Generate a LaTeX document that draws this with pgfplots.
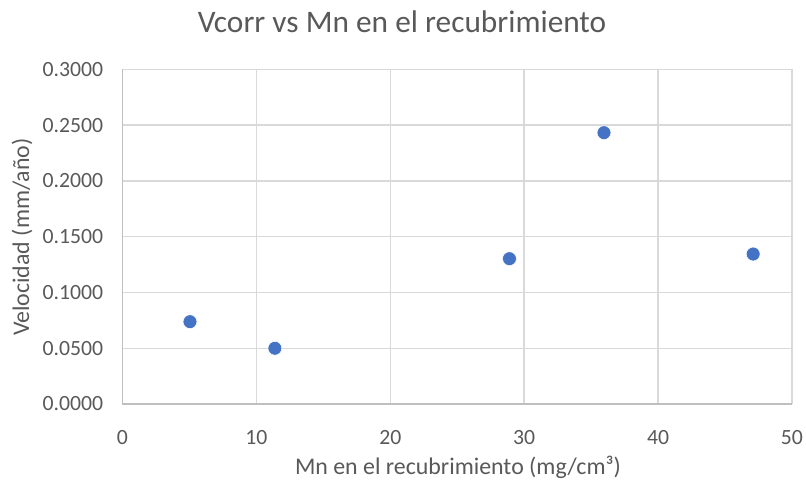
\documentclass[border=0pt]{standalone}
\usepackage{pgfplots}
\pgfplotsset{compat=1.18}
\usepackage{fontspec}
\setmainfont{Carlito}
\definecolor{txtgray}{HTML}{595959}
\definecolor{gridgray}{HTML}{D9D9D9}
\definecolor{axisgray}{HTML}{BFBFBF}
\definecolor{dotblue}{HTML}{4472C4}
\begin{document}
\begin{tikzpicture}
\path[use as bounding box] (0,0) rectangle (604.5pt,360.75pt);
\begin{axis}[
    at={(91.875pt,57.75pt)}, anchor=south west,
    scale only axis, width=502.1pt, height=250.9pt,
    xmin=0, xmax=50, ymin=0, ymax=0.3,
    xtick={0,10,...,50}, ytick={0,0.05,...,0.3},
    grid=major,
    major grid style={gridgray, line width=1.1pt},
    axis line style={draw=none},
    major tick length=0pt,
    /pgf/number format/assume math mode=true,
    tick label style={font=\fontsize{16.3}{19}\selectfont, text=txtgray},
    yticklabel style={xshift=-11pt, /pgf/number format/.cd, fixed, fixed zerofill, precision=4},
    xticklabel style={yshift=-16pt, /pgf/number format/.cd, fixed, precision=0},
    scaled y ticks=false,
    title={Vcorr vs Mn en el recubrimiento},
    title style={at={(rel axis cs:0.4175,1.12)}, anchor=center,
        font=\fontsize{23.5}{27}\selectfont, text=txtgray},
    xlabel={Mn en el recubrimiento (mg/cm³)},
    xlabel style={at={(rel axis cs:0.501,-0.19)}, anchor=center,
        font=\fontsize{17.9}{21}\selectfont, text=txtgray},
    ylabel={Velocidad (mm/año)},
    ylabel style={at={(rel axis cs:-0.150,0.499)}, anchor=center, rotate=0,
        font=\fontsize{17.9}{21}\selectfont, text=txtgray},
    clip=false,
]
\addplot[only marks, mark=*, mark size=5.2pt,
    mark options={fill=dotblue, draw=white, line width=0.4pt}] coordinates {
    (5.04, 0.0738)
    (11.38, 0.0500)
    (28.9, 0.1303)
    (35.96, 0.2433)
    (47.1, 0.1345)
};
\draw[axisgray, line width=1.1pt] (axis cs:0,0.3) -- (axis cs:0,0) -- (axis cs:50,0);
\end{axis}
\end{tikzpicture}
\end{document}
